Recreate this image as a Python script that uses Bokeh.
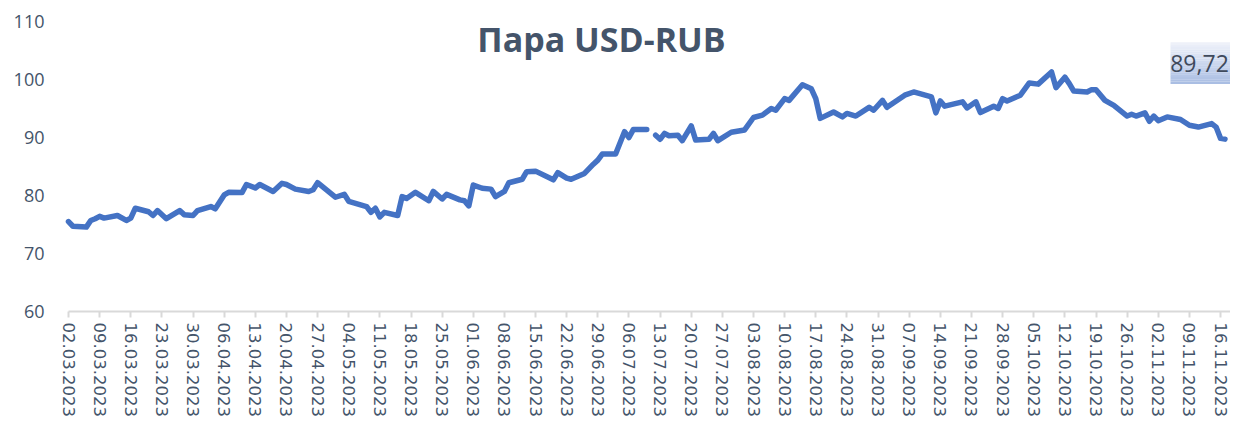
import math
import numpy as np
import pandas as pd
from bokeh.plotting import figure
from bokeh.models import Range1d, FixedTicker, Label, BoxAnnotation, ColumnDataSource
from bokeh.embed import file_html
from bokeh.resources import INLINE

# ---------------- data ----------------
title_text = "Пара USD-RUB"

dates = [
    "02.03.2023", "03.03.2023", "06.03.2023", "07.03.2023", "08.03.2023", "09.03.2023",
    "10.03.2023", "13.03.2023", "15.03.2023", "16.03.2023", "17.03.2023", "20.03.2023",
    "21.03.2023", "22.03.2023", "24.03.2023", "27.03.2023", "28.03.2023", "30.03.2023",
    "31.03.2023", "03.04.2023", "04.04.2023", "06.04.2023", "07.04.2023", "10.04.2023",
    "11.04.2023", "13.04.2023", "14.04.2023", "17.04.2023", "19.04.2023", "20.04.2023",
    "22.04.2023", "25.04.2023", "26.04.2023", "27.04.2023", "01.05.2023", "03.05.2023",
    "04.05.2023", "08.05.2023", "09.05.2023", "10.05.2023", "11.05.2023", "12.05.2023",
    "15.05.2023", "16.05.2023", "17.05.2023", "19.05.2023", "22.05.2023", "23.05.2023",
    "25.05.2023", "26.05.2023", "29.05.2023", "30.05.2023", "31.05.2023", "01.06.2023",
    "03.06.2023", "05.06.2023", "06.06.2023", "08.06.2023", "09.06.2023", "12.06.2023",
    "13.06.2023", "15.06.2023", "19.06.2023", "20.06.2023", "22.06.2023", "23.06.2023",
    "26.06.2023", "28.06.2023", "29.06.2023", "30.06.2023", "03.07.2023", "05.07.2023",
    "06.07.2023", "07.07.2023", "10.07.2023", "11.07.2023", "12.07.2023", "13.07.2023",
    "14.07.2023", "15.07.2023", "17.07.2023", "18.07.2023", "20.07.2023", "21.07.2023",
    "24.07.2023", "25.07.2023", "26.07.2023", "29.07.2023", "01.08.2023", "03.08.2023",
    "05.08.2023", "07.08.2023", "08.08.2023", "10.08.2023", "11.08.2023", "14.08.2023",
    "16.08.2023", "17.08.2023", "18.08.2023", "21.08.2023", "23.08.2023", "24.08.2023",
    "26.08.2023", "29.08.2023", "30.08.2023", "01.09.2023", "02.09.2023", "06.09.2023",
    "08.09.2023", "12.09.2023", "13.09.2023", "14.09.2023", "15.09.2023", "19.09.2023",
    "20.09.2023", "22.09.2023", "23.09.2023", "26.09.2023", "27.09.2023", "28.09.2023",
    "29.09.2023", "02.10.2023", "04.10.2023", "06.10.2023", "09.10.2023", "10.10.2023",
    "12.10.2023", "13.10.2023", "14.10.2023", "17.10.2023", "18.10.2023", "19.10.2023",
    "21.10.2023", "23.10.2023", "26.10.2023", "27.10.2023", "28.10.2023", "30.10.2023",
    "31.10.2023", "01.11.2023", "02.11.2023", "04.11.2023", "07.11.2023", "09.11.2023",
    "11.11.2023", "14.11.2023", "15.11.2023", "16.11.2023", "17.11.2023",
]

rates = [
    75.5, 74.7, 74.55, 75.7, 76.0, 76.4,
    76.1, 76.55, 75.7, 76.1, 77.8, 77.2,
    76.55, 77.4, 76.0, 77.4, 76.7, 76.55,
    77.4, 78.1, 77.7, 80.1, 80.55, 80.5,
    81.9, 81.3, 81.9, 80.7, 82.1, 81.9,
    81.1, 80.7, 81.0, 82.2, 79.7, 80.2,
    79.0, 78.1, 77.1, 77.8, 76.3, 77.1,
    76.55, 79.8, 79.5, 80.55, 79.1, 80.7,
    79.4, 80.2, 79.25, 79.1, 78.2, 81.8,
    81.25, 81.1, 79.8, 80.7, 82.2, 82.8,
    84.1, 84.2, 82.7, 83.95, 83.0, 82.8,
    83.8, 85.4, 86.1, 87.15, 87.15, 91.0,
    90.0, 91.4, 91.4, None, 90.4, 89.7,
    90.7, 90.3, 90.4, 89.45, 92.0, 89.55,
    89.7, 90.7, 89.45, 90.9, 91.3, 93.45,
    93.85, 95.0, 94.7, 96.7, 96.4, 99.1,
    98.4, 96.7, 93.3, 94.4, 93.55, 94.15,
    93.7, 95.2, 94.7, 96.4, 95.2, 97.3,
    97.85, 97.0, 94.25, 96.3, 95.4, 96.15,
    95.1, 96.15, 94.3, 95.4, 95.0, 96.7,
    96.3, 97.3, 99.4, 99.2, 101.3, 98.6,
    100.4, 99.3, 98.0, 97.85, 98.25, 98.25,
    96.4, 95.55, 93.7, 94.0, 93.7, 94.25,
    92.8, 93.7, 92.9, 93.55, 93.1, 92.1,
    91.8, 92.4, 91.8, 89.85, 89.72,
]

tick_labels = [
    "02.03.2023", "09.03.2023", "16.03.2023", "23.03.2023", "30.03.2023", "06.04.2023",
    "13.04.2023", "20.04.2023", "27.04.2023", "04.05.2023", "11.05.2023", "18.05.2023",
    "25.05.2023", "01.06.2023", "08.06.2023", "15.06.2023", "22.06.2023", "29.06.2023",
    "06.07.2023", "13.07.2023", "20.07.2023", "27.07.2023", "03.08.2023", "10.08.2023",
    "17.08.2023", "24.08.2023", "31.08.2023", "07.09.2023", "14.09.2023", "21.09.2023",
    "28.09.2023", "05.10.2023", "12.10.2023", "19.10.2023", "26.10.2023", "02.11.2023",
    "09.11.2023", "16.11.2023",
]

y_ticks = [60, 70, 80, 90, 100, 110]

# ---------------- helpers ----------------
def to_ms(s):
    return pd.Timestamp(pd.to_datetime(s, format="%d.%m.%Y")).value / 1e6


x_ms = np.array([to_ms(d) for d in dates])
y_vals = np.array([np.nan if v is None else v for v in rates], dtype=float)
tick_ms = [to_ms(t) for t in tick_labels]
overrides = {t: lab for t, lab in zip(tick_ms, tick_labels)}

x0, x_last = x_ms[0], x_ms[-1]
BLUE = "#4472C4"
SLATE = "#44546A"

# ---------------- layout (canvas pixels) ----------------
W, H = 1230, 417
TOP, AXIS_Y = 21, 311          # y of top tick value and of x-axis line
FRAME_L = 56                   # frame left edge
FIRST_X, LAST_X = 68, 1224.5   # x of first and last date
px_per_unit = (AXIS_Y - TOP) / (y_ticks[-1] - y_ticks[0])
y_start = y_ticks[0] - (H - AXIS_Y) / px_per_unit   # frame reaches canvas bottom
px_per_ms = (LAST_X - FIRST_X) / (x_last - x0)
x_start = x0 - (FIRST_X - FRAME_L) / px_per_ms
x_end = x_last + (W - LAST_X) / px_per_ms

p = figure(width=W, height=H, output_backend="svg", toolbar_location=None,
           x_axis_type="datetime",
           x_range=Range1d(x_start, x_end),
           y_range=Range1d(y_start, y_ticks[-1]),
           min_border_left=FRAME_L, min_border_right=0,
           min_border_top=TOP, min_border_bottom=0)
p.outline_line_color = None
p.background_fill_color = "white"
p.border_fill_color = "white"
p.xgrid.visible = False
p.ygrid.visible = False

# main line
src = ColumnDataSource(dict(x=x_ms, y=y_vals))
p.line("x", "y", source=src, line_color=BLUE, line_width=5.5,
       line_join="round", line_cap="round")

# x axis pinned at the bottom value
xa = p.xaxis[0]
xa.fixed_location = y_ticks[0]
xa.bounds = (x0, x_end)
xa.ticker = FixedTicker(ticks=tick_ms)
xa.major_label_overrides = overrides
xa.axis_line_color = "#D9D9D9"
xa.axis_line_width = 2
xa.major_tick_line_color = "#D9D9D9"
xa.major_tick_line_width = 2
xa.major_tick_out = 6
xa.major_tick_in = 0
xa.minor_tick_line_color = None
xa.major_label_orientation = -math.pi / 2
xa.major_label_text_font = "DejaVu Sans"
xa.major_label_text_font_size = "16.5px"
xa.major_label_text_color = SLATE
xa.major_label_standoff = 5

# y axis
ya = p.yaxis[0]
ya.ticker = FixedTicker(ticks=y_ticks)
ya.axis_line_color = None
ya.major_tick_line_color = None
ya.major_tick_out = 0
ya.major_tick_in = 0
ya.minor_tick_line_color = None
ya.major_label_text_font = "Open Sans"
ya.major_label_text_font_size = "18px"
ya.major_label_text_color = SLATE
ya.major_label_standoff = 12


def sx(px):
    """canvas x pixel -> data x"""
    return x0 + (px - FIRST_X) / px_per_ms


def sy(py):
    """canvas y pixel -> data y"""
    return y_ticks[-1] - (py - TOP) / px_per_unit


# title
p.add_layout(Label(x=sx(601), y=sy(38), text=title_text,
                   text_align="center", text_baseline="middle",
                   text_font="Open Sans", text_font_style="bold",
                   text_font_size="34px", text_color=SLATE))

# last value data label with gradient box
box_left, box_right = sx(1170), sx(1250)
box_top, box_bottom = sy(41.7), sy(83.3)
n = 18
c_top = np.array([0xF0, 0xF3, 0xFA])
c_bot = np.array([0xA8, 0xBC, 0xE2])
h = (box_top - box_bottom) / n
for i in range(n):
    t = (i + 0.5) / n
    c = (c_top * (1 - t) + c_bot * t).round().astype(int)
    p.add_layout(BoxAnnotation(left=box_left, right=box_right,
                               top=box_top - i * h, bottom=box_top - (i + 1) * h - 0.02,
                               fill_color="#%02x%02x%02x" % tuple(c), fill_alpha=1.0,
                               line_color=None))

last_txt = f"{rates[-1]:.2f}".replace(".", ",")
p.add_layout(Label(x=sx(1199), y=sy(63), text=last_txt,
                   text_align="center", text_baseline="middle",
                   text_font="Open Sans", text_font_size="23px",
                   text_color="#3F4A5C"))

open("out.html", "w").write(file_html(p, INLINE))
